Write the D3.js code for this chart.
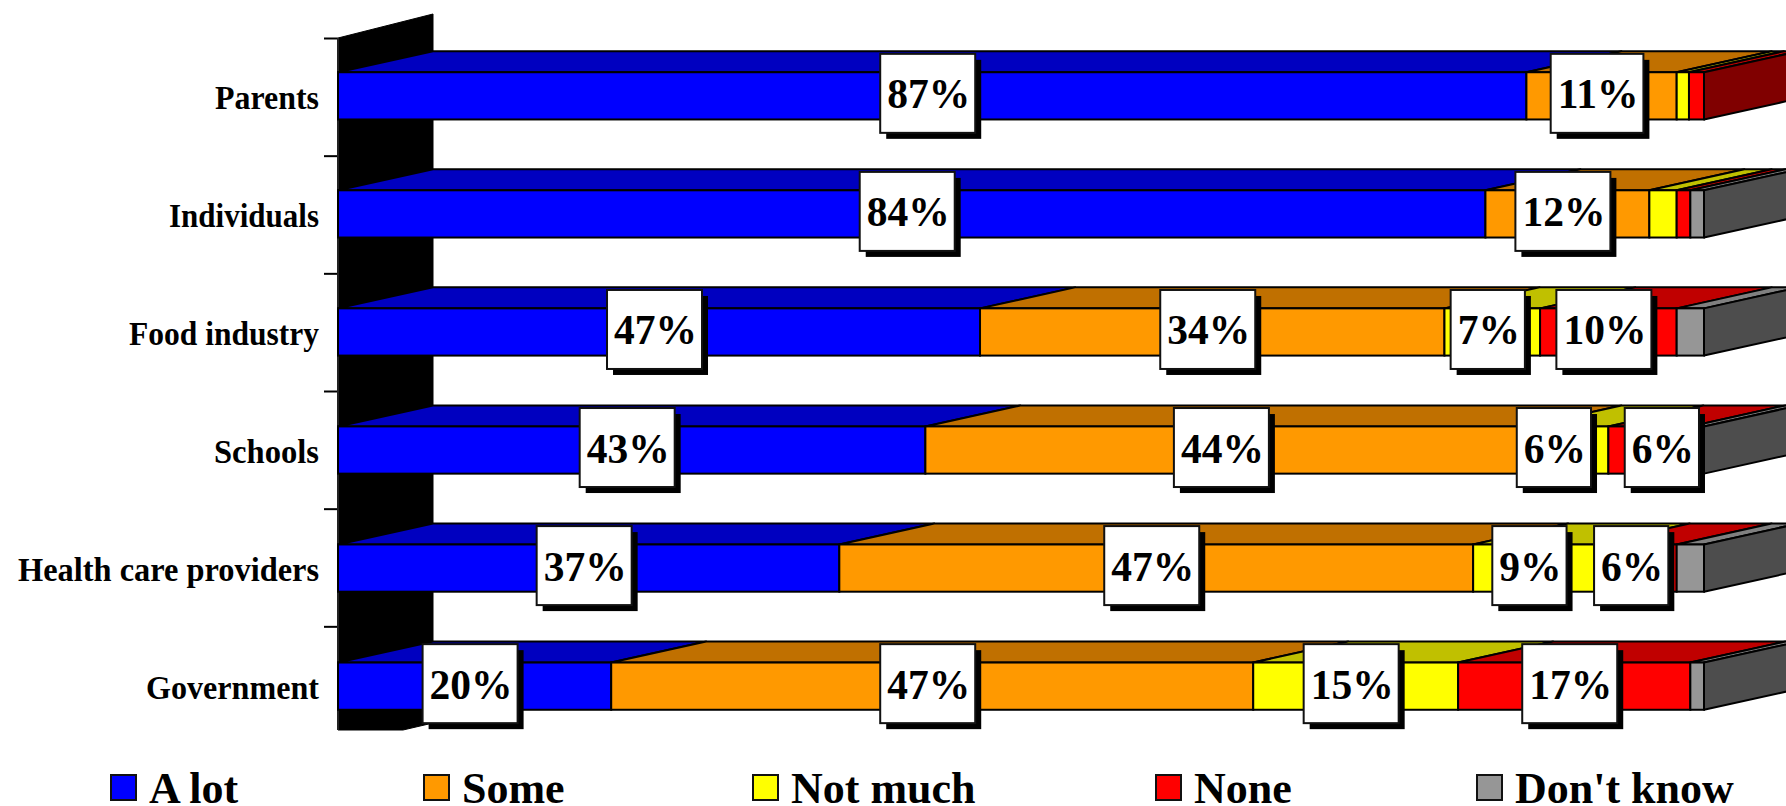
<!DOCTYPE html>
<html><head><meta charset="utf-8">
<script src="https://cdn.jsdelivr.net/npm/d3@7"></script>
<style>
html,body{margin:0;padding:0;background:#fff;overflow:hidden}
svg{display:block}
text{font-family:"Liberation Serif","Times New Roman",serif;font-weight:700;fill:#000}
</style></head><body>
<svg id="c" width="1786" height="806"></svg>
<script>
const categories = ["Parents","Individuals","Food industry","Schools","Health care providers","Government"];
const seriesNames = ["A lot","Some","Not much","None","Don't know"];
const aLot    = [87, 84, 47, 43, 36.7, 20];
const some    = [11, 12, 34, 44, 46.4, 47];
const notMuch = [0.9, 2, 7, 6, 8.9, 15];
const none    = [1.1, 1, 10, 6, 6, 17];
const dontKnow= [0, 1, 2, 1, 2, 1];
const labelsALot    = ["87%","84%","47%","43%","37%","20%"];
const labelsSome    = ["11%","12%","34%","44%","47%","47%"];
const labelsNotMuch = [null,null,"7%","6%","9%","15%"];
const labelsNone    = [null,null,"10%","6%","6%","17%"];
const labelsDontKnow= [null,null,null,null,null,null];

const frontColors = ["#0000ff","#ff9900","#ffff00","#ff0000","#969696"];
const topColors   = ["#0000c0","#c07000","#c0c000","#c00000","#808080"];
const sideColors  = ["#000080","#804000","#808000","#800000","#4d4d4d"];
const legendX = [110,423,752,1155,1476];
const catLabelWidths = [104,150,190,105,301,173];

const DX = 95, DY = -21;
const svg = d3.select("#c");
const x = d3.scaleLinear().domain([0,100]).range([338,1704]);
const y = d3.scaleBand().domain(categories).range([38,744]).paddingInner(0.6).paddingOuter(0.29);
const tickScale = d3.scaleLinear().domain([0,6]).range([38,744]);

const valueCols = [aLot,some,notMuch,none,dontKnow];
const labelCols = [labelsALot,labelsSome,labelsNotMuch,labelsNone,labelsDontKnow];
const rows = categories.map((c,i)=>{const r={cat:c};seriesNames.forEach((s,j)=>r[s]=valueCols[j][i]);return r;});
const stacked = d3.stack().keys(seriesNames)(rows);

// back wall
const x0 = x(0), wallBottom = 730;
svg.append("path").attr("fill","#000").attr("stroke","#000").attr("stroke-width",1)
  .attr("d",d3.line()([[x0,tickScale(0)],[x0+DX,tickScale(0)-24],[x0+DX,wallBottom-7],[x0+65,wallBottom],[x0,wallBottom]]));

// axis
const tickAxis = d3.axisLeft(tickScale).tickValues(d3.range(0,6)).tickSize(14).tickFormat("");
const gt = svg.append("g").attr("transform",`translate(${x0},0)`).call(tickAxis);
gt.selectAll("line").attr("stroke","#000").attr("stroke-width",2);
gt.select(".domain").remove();
svg.append("line").attr("x1",x0).attr("x2",x0).attr("y1",tickScale(0)).attr("y2",wallBottom).attr("stroke","#222").attr("stroke-width",2);

const catAxis = d3.axisLeft(y).tickSize(0).tickPadding(0);
const ga = svg.append("g").attr("transform",`translate(319,0)`).call(catAxis);
ga.select(".domain").remove();
ga.selectAll("text").attr("font-size",33).attr("dy",null).attr("y",13).attr("text-anchor","end")
  .attr("textLength",(d,i)=>catLabelWidths[i]).attr("lengthAdjust","spacingAndGlyphs");

// bars
const lw = 2;
categories.forEach((c,i)=>{
  const yt = y(c), bw = y.bandwidth();
  const g = svg.append("g");
  stacked.forEach((s,j)=>{
    const a=x(s[i][0]), b=x(s[i][1]);
    if(b-a<=0) return;
    g.append("path").attr("fill",topColors[j]).attr("stroke","#000").attr("stroke-width",lw).attr("stroke-linejoin","round")
      .attr("d",d3.line()([[a,yt],[a+DX,yt+DY],[b+DX,yt+DY],[b,yt]])+"Z");
  });
  let last = stacked.length-1;
  while(last>0 && valueCols[last][i]<=0) last--;
  g.append("path").attr("fill",sideColors[last]).attr("stroke","#000").attr("stroke-width",lw).attr("stroke-linejoin","round")
    .attr("d",d3.line()([[x(100),yt],[x(100)+DX,yt+DY],[x(100)+DX,yt+DY+bw],[x(100),yt+bw]])+"Z");
  stacked.forEach((s,j)=>{
    const a=x(s[i][0]), b=x(s[i][1]);
    if(b-a<=0) return;
    g.append("rect").attr("x",a).attr("y",yt).attr("width",b-a).attr("height",bw)
      .attr("fill",frontColors[j]).attr("stroke","#000").attr("stroke-width",lw);
  });
});

// value labels (the two small Schools labels are pushed apart so they do not collide)
const labelShift = {"Schools|Not much":-9,"Schools|None":17};
const labelG = svg.append("g");
categories.forEach((c,i)=>{
  stacked.forEach((s,j)=>{
    const t = labelCols[j][i];
    if(!t) return;
    const cx = (x(s[i][0])+x(s[i][1]))/2 - 4.5 + (labelShift[c+"|"+seriesNames[j]]||0);
    const cy = y(c)+y.bandwidth()/2 - 2.5;
    const g = labelG.append("g");
    const txt = g.append("text").attr("x",cx+1).attr("y",cy+15).attr("text-anchor","middle").attr("font-size",41.5).text(t);
    const w = txt.node().getComputedTextLength()+12, h = 79;
    g.insert("rect","text").attr("x",cx-w/2+6).attr("y",cy-h/2+6).attr("width",w).attr("height",h).attr("fill","#000");
    g.insert("rect","text").attr("x",cx-w/2).attr("y",cy-h/2).attr("width",w).attr("height",h)
      .attr("fill","#fff").attr("stroke","#111").attr("stroke-width",2);
  });
});

// legend
const lg = svg.append("g");
seriesNames.forEach((n,j)=>{
  lg.append("rect").attr("x",legendX[j]+1).attr("y",775).attr("width",25).attr("height",25)
    .attr("fill",frontColors[j]).attr("stroke","#111").attr("stroke-width",2);
  lg.append("text").attr("x",legendX[j]+39).attr("y",803).attr("font-size",44).text(n);
});
</script></body></html>
